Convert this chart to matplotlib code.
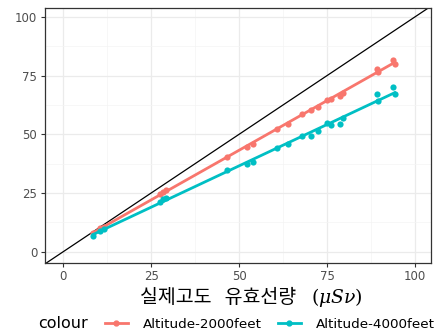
import matplotlib
matplotlib.use("Agg")
import matplotlib.pyplot as plt
from matplotlib.lines import Line2D
import numpy as np

plt.rcParams['font.family'] = ['DejaVu Sans', 'Noto Sans CJK KR']
plt.rcParams['mathtext.fontset'] = 'dejavuserif'

# actual-altitude effective dose (x) vs. modelled dose (y)
dose_actual = [8.5, 10.5, 11.5, 27.5, 28.5, 29.3, 46.5, 52.3, 54.0, 60.8, 63.8,
               67.9, 70.6, 72.4, 74.9, 76.2, 78.7, 79.6, 89.1, 89.6, 93.8, 94.3]
dose_2000ft = [8.0, 10.0, 10.5, 24.5, 25.5, 26.2, 40.3, 44.6, 46.0, 52.4, 54.6,
               58.5, 60.3, 61.8, 64.7, 65.0, 66.2, 67.8, 77.8, 76.5, 81.8, 80.0]
dose_4000ft = [6.8, 8.6, 9.8, 21.3, 22.3, 23.0, 35.0, 37.2, 38.4, 44.3, 45.9,
               49.3, 49.3, 51.3, 54.8, 54.0, 54.5, 57.0, 67.3, 64.0, 70.1, 67.1]
series_names = ["Altitude-2000feet", "Altitude-4000feet"]
series_cols = ["#F8766D", "#00BFC4"]
ticks = [0, 25, 50, 75, 100]

W, H = 436, 331
fig = plt.figure(figsize=(W/100, H/100), dpi=100)
ax = fig.add_axes([45/W, 1-262.7/H, (431-45)/W, (262.7-8.3)/H])

ax.axline((0, 0), slope=1, color="black", lw=0.9, zorder=2)

x = np.array(dose_actual)
for ys, col in zip([dose_2000ft, dose_4000ft], series_cols):
    ys = np.array(ys)
    ax.scatter(x, ys, s=20, color=col, zorder=3, linewidths=0)
    k, b = np.polyfit(x, ys, 1)
    xx = np.array([x.min(), x.max()])
    ax.plot(xx, k*xx + b, color=col, lw=2.0, zorder=3)

ax.set_xlim(-5.2, 104.6)
ax.set_ylim(-4.7, 103.7)
ax.set_xticks(ticks)
ax.set_yticks(ticks)
ax.set_xticks([12.5, 37.5, 62.5, 87.5], minor=True)
ax.set_yticks([12.5, 37.5, 62.5, 87.5], minor=True)
ax.grid(which="major", color="#EBEBEB", lw=0.9)
ax.grid(which="minor", color="#F4F4F4", lw=0.5)
ax.set_axisbelow(True)
for s in ax.spines.values():
    s.set_color("#333333")
    s.set_linewidth(0.9)
ax.tick_params(which="major", length=3, color="#333333", labelsize=8.5,
               labelcolor="#4D4D4D", pad=2.5)
ax.tick_params(which="minor", length=0)

# x axis title: korean part + math part
fig.text(140/W, 1-303/H, "실제고도   유효선량", fontsize=14.0, va="baseline", ha="left",
         family=['Noto Sans CJK KR', 'DejaVu Sans'], color="black")
fig.text(311/W, 1-303/H, "$(\\mu S\\nu)$", fontsize=13.5, va="baseline", ha="left")

# legend at bottom, ggplot style
handles = [Line2D([], [], color=c, lw=2.0, marker="o", markersize=3.5) for c in series_cols]
fig.text(38/W, 1-324/H, "colour", fontsize=11.5, va="center", ha="left")
fig.legend(handles, series_names, loc="center left", bbox_to_anchor=(105/W, 1-324/H),
           ncol=2, frameon=False, fontsize=9.7, handlelength=1.7, columnspacing=1.2,
           handletextpad=1.1, borderpad=0, borderaxespad=0)

fig.savefig("out.png", dpi=100)
